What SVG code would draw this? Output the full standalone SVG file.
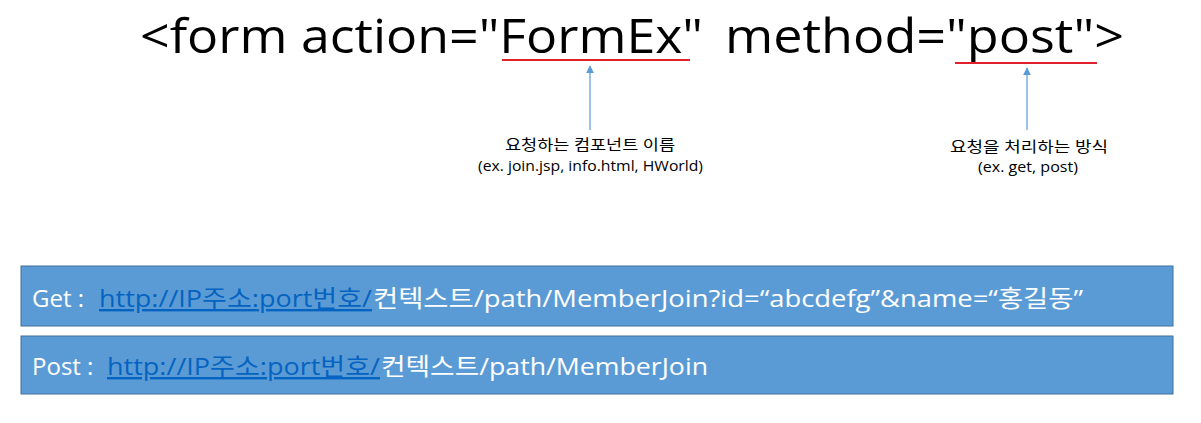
<svg xmlns="http://www.w3.org/2000/svg" width="1201" height="423" viewBox="0 0 1201 423">
  <defs>
    <marker id="arrow" viewBox="0 0 10 10" refX="9" refY="5" markerWidth="8" markerHeight="8" orient="auto" markerUnits="userSpaceOnUse">
      <path d="M0,0 L10,5 L0,10 z" fill="#5B9BD5"/>
    </marker>
  </defs>
  <style>
    text { font-family: "Open Sans", "Noto Sans CJK KR", sans-serif; }
    .title { font-size: 48px; fill: #000; }
    .note { font-size: 15px; fill: #000; }
    .box { fill: #5B9BD5; stroke: #41719C; stroke-width: 1; }
    .url { font-size: 24px; fill: #fff; }
    .link { fill: #0563C1; text-decoration: underline; }
    .mark { stroke: #E0202A; stroke-width: 2; }
    .conn { stroke: #5B9BD5; stroke-width: 1.2; fill: none; marker-end: url(#arrow); }
  </style>

  <!-- form tag heading -->
  <g id="heading">
    <text class="title" x="140" y="53" textLength="563" lengthAdjust="spacingAndGlyphs">&lt;form action="FormEx"</text>
    <text class="title" x="725" y="53" textLength="399" lengthAdjust="spacingAndGlyphs">method="post"&gt;</text>
    <line class="mark" x1="502" y1="60" x2="690" y2="60"/>
    <line class="mark" x1="955" y1="63" x2="1097" y2="63"/>
  </g>

  <!-- pointers to the attributes -->
  <g id="connectors">
    <line class="conn" x1="590" y1="130" x2="590" y2="66"/>
    <line class="conn" x1="1027" y1="130" x2="1027" y2="68"/>
  </g>

  <g id="note-action">
    <text class="note" x="505" y="150" textLength="170" lengthAdjust="spacingAndGlyphs">요청하는 컴포넌트 이름</text>
    <text class="note" x="478" y="171" textLength="225" lengthAdjust="spacingAndGlyphs">(ex. join.jsp, info.html, HWorld)</text>
  </g>

  <g id="note-method">
    <text class="note" x="950" y="152" textLength="158" lengthAdjust="spacingAndGlyphs">요청을 처리하는 방식</text>
    <text class="note" x="978" y="172" textLength="100" lengthAdjust="spacingAndGlyphs">(ex. get, post)</text>
  </g>

  <!-- request URL examples -->
  <g id="get-url">
    <rect class="box" x="21" y="266" width="1152" height="60"/>
    <text class="url" y="307"><tspan x="32">Get : </tspan><tspan x="99" class="link" textLength="273" lengthAdjust="spacingAndGlyphs">http://IP주소:port번호/</tspan><tspan x="373" textLength="710" lengthAdjust="spacingAndGlyphs">컨텍스트/path/MemberJoin?id=“abcdefg”&amp;name=“홍길동”</tspan></text>
  </g>

  <g id="post-url">
    <rect class="box" x="21" y="336" width="1152" height="58"/>
    <text class="url" y="375"><tspan x="32">Post : </tspan><tspan x="107" class="link" textLength="273" lengthAdjust="spacingAndGlyphs">http://IP주소:port번호/</tspan><tspan x="381" textLength="327" lengthAdjust="spacingAndGlyphs">컨텍스트/path/MemberJoin</tspan></text>
  </g>
</svg>
